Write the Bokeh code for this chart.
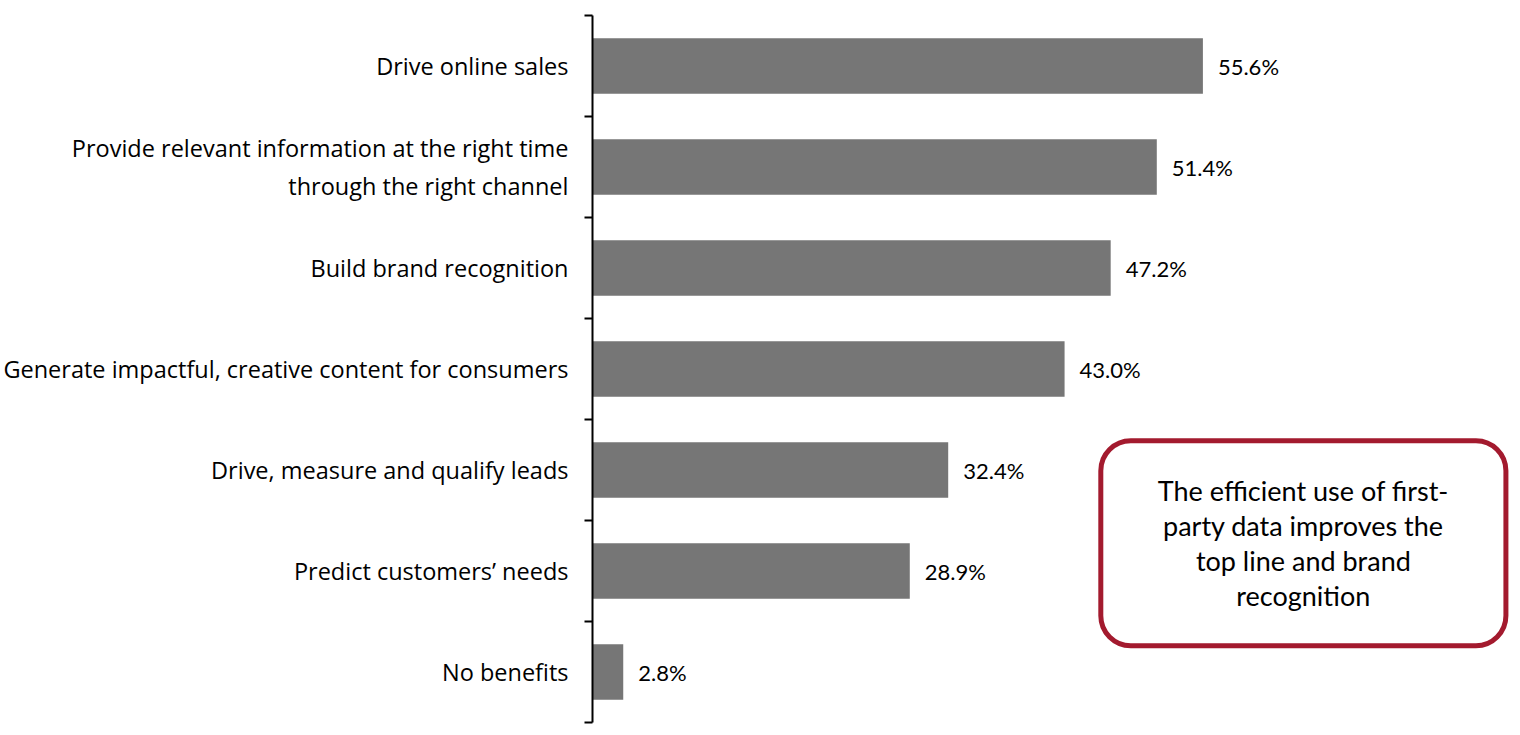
from bokeh.plotting import figure
from bokeh.models import LinearAxis, FixedTicker, BoxAnnotation, Label, ColumnDataSource, Range1d
from bokeh.embed import file_html
from bokeh.resources import INLINE

categories = [
    "Drive online sales",
    "Provide relevant information at the right time\nthrough the right channel",
    "Build brand recognition",
    "Generate impactful, creative content for consumers",
    "Drive, measure and qualify leads",
    "Predict customers\u2019 needs",
    "No benefits",
]
values = [55.6, 51.4, 47.2, 43.0, 32.4, 28.9, 2.8]
value_labels = ["55.6%", "51.4%", "47.2%", "43.0%", "32.4%", "28.9%", "2.8%"]
note_text = "The efficient use of first-\nparty data improves the\ntop line and brand\nrecognition"

FONT = "Lato"
LABEL_FONT = "Open Sans"
n = len(categories)
ypos = [n - 1 - i for i in range(n)]
boundaries = [i - 0.5 for i in range(n + 1)]

src = ColumnDataSource(dict(y=ypos, v=values, lab=value_labels))

p = figure(width=1512, height=730, output_backend="svg", toolbar_location=None,
           x_range=Range1d(0, 83.8), y_range=Range1d(-0.5, n - 0.5),
           y_axis_type=None, min_border_left=592, min_border_right=0,
           min_border_top=15, min_border_bottom=8)
p.xaxis.visible = False
p.xgrid.visible = False
p.ygrid.visible = False
p.outline_line_color = None
p.background_fill_color = "white"
p.border_fill_color = "white"

p.hbar(y="y", right="v", left=0, height=0.55, source=src, fill_color="#767676", line_color=None)
p.text(x="v", y="y", text="lab", source=src, x_offset=15, text_align="left", text_baseline="middle",
       text_font_size="22px", text_color="black", text_font={"value": FONT})

# axis line with boundary ticks
ax_line = LinearAxis(ticker=FixedTicker(ticks=boundaries),
                     major_label_overrides={b: "" for b in boundaries},
                     major_label_standoff=0,
                     major_tick_out=8, major_tick_in=0, minor_tick_line_color=None,
                     axis_line_color="black", axis_line_width=2,
                     major_tick_line_color="black", major_tick_line_width=2)
p.add_layout(ax_line, "left")

# category labels
ax_lab = LinearAxis(ticker=FixedTicker(ticks=ypos),
                    major_label_overrides={y: c for y, c in zip(ypos, categories)},
                    major_label_text_font_size="23.5px", major_label_text_font=LABEL_FONT,
                    major_label_text_color="black", major_label_standoff=10,
                    major_tick_line_color=None, minor_tick_line_color=None,
                    axis_line_color=None)
p.add_layout(ax_lab, "left")

box = BoxAnnotation(left=46.3, right=83.2, top=2.29, bottom=0.26,
                    fill_color="white", fill_alpha=1.0, line_color="#A31A2E", line_alpha=1.0,
                    line_width=5, border_radius=30)
p.add_layout(box)
p.add_layout(Label(x=(46.3 + 83.2) / 2, y=(2.29 + 0.26) / 2, text=note_text,
                   text_align="center", text_baseline="middle", text_font_size="27px",
                   text_font=FONT, text_line_height=1.06, text_color="black"))

open("out.html", "w").write(file_html(p, INLINE))
